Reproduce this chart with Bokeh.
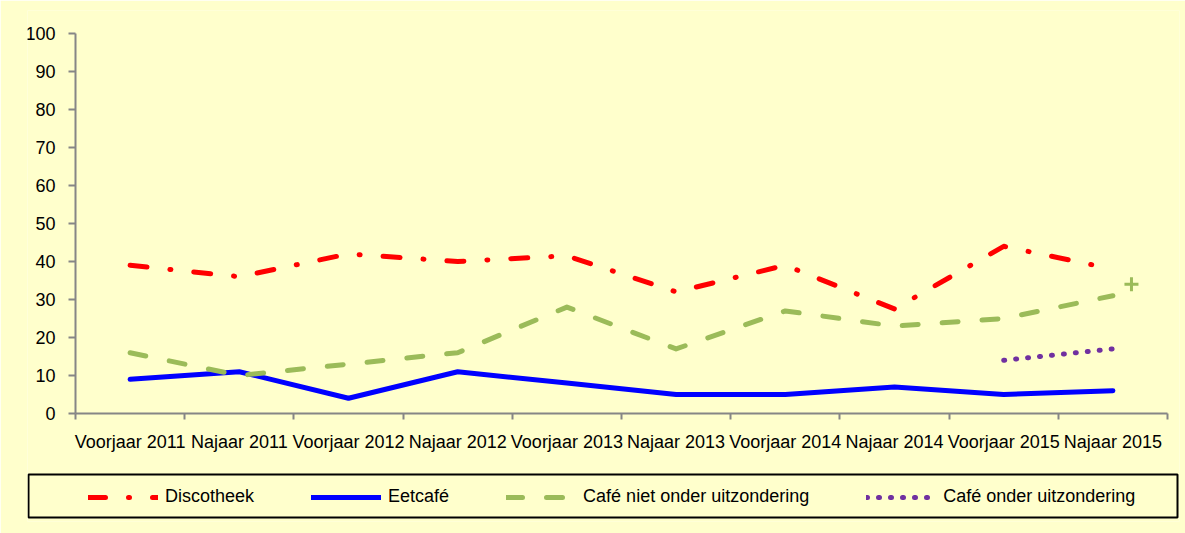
from bokeh.plotting import figure
from bokeh.models import (Range1d, LinearAxis, FixedTicker, Legend, LegendItem,
                          BoxAnnotation)
from bokeh.embed import file_html
from bokeh.resources import INLINE

categories = ["Voorjaar 2011", "Najaar 2011", "Voorjaar 2012", "Najaar 2012",
              "Voorjaar 2013", "Najaar 2013", "Voorjaar 2014", "Najaar 2014",
              "Voorjaar 2015", "Najaar 2015"]
discotheek = [39, 36, 42, 40, 41.5, 32, 39, 27.5, 44, 38]
eetcafe = [9, 11, 4, 11, 8, 5, 5, 7, 5, 6]
cafe_niet = [16, 10, 13, 16, 28, 17, 27, 23, 25, 31]
cafe_onder_cats = ["Voorjaar 2015", "Najaar 2015"]
cafe_onder = [14, 17]
plus_cats = ["Najaar 2015"]
plus_values = [34]
y_ticks = list(range(0, 101, 10))
series_names = ["Discotheek", "Eetcafé", "Café niet onder uitzondering",
                "Café onder uitzondering"]

FONT = "'Liberation Sans', Arial, sans-serif"
BG = "#FFFFCC"
AXIS = "#868686"

# category slots on a numeric scale (slot i spans [i, i+1])
n = len(categories)
pos = {c: i + 0.5 for i, c in enumerate(categories)}

# layout in canvas pixels
W, H = 1185, 533
AX_L, AX_R, AX_T, AX_B = 75, 1167, 33, 413      # chart axes box
FR_L, FR_R, FR_T, FR_B = 27, 1179, 10, 521       # frame (also holds the legend box)
px_x = (AX_R - AX_L) / n
px_y = (AX_B - AX_T) / 100.0

p = figure(width=W, height=H, output_backend="svg", toolbar_location=None,
           x_range=Range1d((FR_L - AX_L) / px_x, n + (FR_R - AX_R) / px_x),
           y_range=Range1d(-(FR_B - AX_B) / px_y, 100 + (AX_T - FR_T) / px_y),
           x_axis_type=None, y_axis_type=None,
           min_border_left=FR_L, min_border_right=W - FR_R,
           min_border_top=FR_T, min_border_bottom=H - FR_B,
           background_fill_color=BG, border_fill_color=BG, outline_line_color=None)
p.grid.visible = False

xaxis = LinearAxis(ticker=FixedTicker(ticks=[pos[c] for c in categories],
                                      minor_ticks=list(range(n + 1))),
                   major_label_overrides={pos[c]: c for c in categories},
                   fixed_location=0, bounds=(0, n))
xaxis.axis_line_color = AXIS
xaxis.axis_line_width = 2
xaxis.major_tick_out = 0
xaxis.major_tick_in = 0
xaxis.minor_tick_out = 6
xaxis.minor_tick_in = 0
xaxis.minor_tick_line_color = AXIS
xaxis.minor_tick_line_width = 2
xaxis.major_label_standoff = 12
xaxis.major_label_text_font = FONT
xaxis.major_label_text_font_size = "18px"
xaxis.major_label_text_color = "#000000"
p.add_layout(xaxis, "below")

yaxis = LinearAxis(ticker=FixedTicker(ticks=y_ticks, minor_ticks=[]),
                   fixed_location=0, bounds=(0, 100))
yaxis.axis_line_color = AXIS
yaxis.axis_line_width = 2
yaxis.major_tick_out = 7
yaxis.major_tick_in = 0
yaxis.major_tick_line_color = AXIS
yaxis.major_tick_line_width = 2
yaxis.major_label_standoff = 13
yaxis.major_label_text_font = FONT
yaxis.major_label_text_font_size = "18px"
yaxis.major_label_text_color = "#000000"
p.add_layout(yaxis, "left")

kw = dict(line_cap="round", line_join="round", line_width=5)
r1 = p.line([pos[c] for c in categories], discotheek, line_color="#FF0000",
            line_dash="17 23 1 23", **kw)
r2 = p.line([pos[c] for c in categories], eetcafe, line_color="#0000FF", **kw)
r3 = p.line([pos[c] for c in categories], cafe_niet, line_color="#9BBB59",
            line_dash="16 24", **kw)
r4 = p.line([pos[c] for c in cafe_onder_cats], cafe_onder, line_color="#7030A0",
            line_dash="1 11", **kw)
p.scatter([pos[c] + 0.17 for c in plus_cats], plus_values,
          marker="cross", size=14, line_color="#9BBB59", line_width=3)

legend = Legend(items=[LegendItem(label=nm, renderers=[r])
                       for nm, r in zip(series_names, [r1, r2, r3, r4])],
                orientation="horizontal", location=(88 - FR_L, 14), margin=0,
                border_line_color=None, background_fill_alpha=0,
                glyph_width=70, glyph_height=20, label_standoff=7, spacing=57,
                label_text_font=FONT, label_text_font_size="18px",
                label_text_color="#000000")
p.add_layout(legend, "center")

box = BoxAnnotation(left=28, right=1177, top=474, bottom=517,
                    left_units="canvas", right_units="canvas",
                    top_units="canvas", bottom_units="canvas",
                    fill_color=None, line_color="#000000", line_alpha=1.0,
                    line_width=2)
p.add_layout(box)

open("out.html", "w").write(file_html(p, INLINE))
